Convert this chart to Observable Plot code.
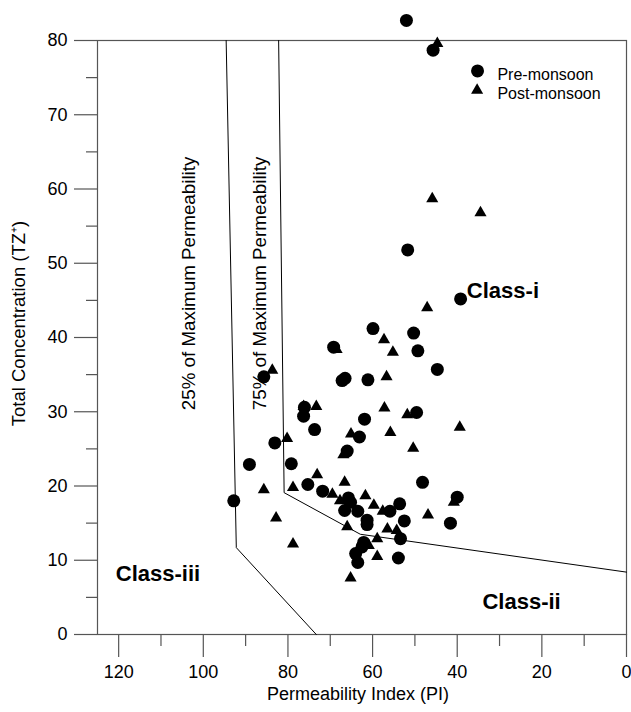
<!DOCTYPE html>
<html><head><meta charset="utf-8">
<script src="https://cdn.jsdelivr.net/npm/d3@7"></script>
<script src="https://cdn.jsdelivr.net/npm/@observablehq/plot@0.6"></script>
<style>
body{margin:0;background:#fff;}
#chart svg{display:block;}
</style></head><body><div id="chart"></div>
<script>
// Pre-monsoon samples (circles)
const preMonsoonPI = [52.0,45.7,51.7,39.2,59.9,69.2,50.3,49.3,44.7,85.7,67.2,66.5,61.1,76.1,76.3,73.7,61.9,63.1,49.6,66.0,83.1,89.1,79.2,92.8,75.3,71.8,65.7,65.2,66.6,63.5,61.3,61.3,62.1,62.5,64.0,63.5,48.2,40.0,53.6,55.9,52.5,41.6,53.4,53.9];
const preMonsoonTZ = [82.7,78.7,51.8,45.2,41.2,38.7,40.6,38.2,35.7,34.7,34.2,34.5,34.3,30.6,29.4,27.6,29.0,26.6,29.9,24.7,25.8,22.9,23.0,18.0,20.2,19.3,18.4,17.8,16.7,16.6,15.4,14.8,12.4,11.8,10.9,9.7,20.5,18.5,17.6,16.6,15.3,15.0,12.9,10.3];
// Post-monsoon samples (triangles)
const postMonsoonPI = [44.7,45.9,34.5,47.1,57.3,55.2,83.7,56.7,76.3,73.3,57.2,51.8,65.1,55.8,39.4,80.2,50.4,66.9,73.1,66.6,85.7,78.8,69.5,67.7,61.7,59.7,57.6,40.8,82.8,46.9,66.0,56.5,54.3,78.8,58.9,60.9,58.9,65.2,68.5];
const postMonsoonTZ = [79.6,58.7,56.8,44.0,39.7,38.0,35.6,34.7,30.7,30.7,30.5,29.6,27.0,27.2,27.9,26.4,25.1,24.2,21.5,20.5,19.5,19.8,18.9,18.0,18.7,17.4,16.6,17.8,15.7,16.1,14.5,14.2,14.0,12.2,12.9,12.0,10.5,7.6,38.4];

// Class boundary lines
const line25PI = [94.6, 92.2, 73.3];
const line25TZ = [80, 11.7, 0];
const line75PI = [82.2, 80.9, 62.9, 0];
const line75TZ = [80, 19.1, 13.5, 8.4];

// Ticks
const xMajorTicks = [0,20,40,60,80,100,120];
const xMinorTicks = [10,30,50,70,90,110];
const yMajorTicks = [0,10,20,30,40,50,60,70,80];
const yMinorTicks = [5,15,25,35,45,55,65,75];

// Texts
const xTitle = "Permeability Index (PI)";
const yTitle = "Total Concentration (TZ\u207A)";
const classLabels = ["Class-i","Class-ii","Class-iii"];
const classPI = [29.2, 24.8, 110.7];
const classTZ = [46.3, 4.4, 8.1];
const lineLabels = ["25% of Maximum Permeability","75% of Maximum Permeability"];
const lineLabelPI = [103.3, 86.5];
const lineLabelTZ = [30.2, 30.2];
const legendLabels = ["Pre-monsoon","Post-monsoon"];
const legendPI = [35.2, 35.3];
const legendTZ = [75.9, 73.3];
const legendTextPI = 30.5;

const pre = preMonsoonPI.map((v,i)=>({pi:v, tz:preMonsoonTZ[i]}));
const post = postMonsoonPI.map((v,i)=>({pi:v, tz:postMonsoonTZ[i]}));
const l25 = line25PI.map((v,i)=>({pi:v, tz:line25TZ[i]}));
const l75 = line75PI.map((v,i)=>({pi:v, tz:line75TZ[i]}));
const classes = classLabels.map((t,i)=>({t, pi:classPI[i], tz:classTZ[i]}));
const lineLbl = lineLabels.map((t,i)=>({t, pi:lineLabelPI[i], tz:lineLabelTZ[i]}));
const legend = legendLabels.map((t,i)=>({t, pi:legendPI[i], tz:legendTZ[i], tpi: legendTextPI}));

const FONT = "Arial, 'Liberation Sans', Helvetica, sans-serif";

const chart = Plot.plot({
  width: 631,
  height: 712,
  marginLeft: 97,
  marginRight: 5,
  marginTop: 40,
  marginBottom: 78,
  style: {fontFamily: FONT, fontSize: "18px", background: "white", color: "black"},
  x: {domain: [125, 0]},
  y: {domain: [0, 80]},
  marks: [
    Plot.frame({stroke: "#555", strokeWidth: 1.2}),
    Plot.axisX({ticks: xMajorTicks, tickSize: 23, tickPadding: 8, label: null, stroke: "#555", strokeWidth: 1.2, fill: "black", fontSize: 18}),
    Plot.axisX({ticks: xMinorTicks, tickSize: 12, tickFormat: () => "", label: null, stroke: "#555", strokeWidth: 1.2}),
    Plot.axisY({ticks: yMajorTicks, tickSize: 23, tickPadding: 7, label: null, stroke: "#555", strokeWidth: 1.2, fill: "black", fontSize: 18}),
    Plot.axisY({ticks: yMinorTicks, tickSize: 11, tickFormat: () => "", label: null, stroke: "#555", strokeWidth: 1.2}),
    Plot.line(l25, {x: "pi", y: "tz", stroke: "black", strokeWidth: 1}),
    Plot.line(l75, {x: "pi", y: "tz", stroke: "black", strokeWidth: 1}),
    Plot.text(lineLbl, {x: "pi", y: "tz", text: "t", rotate: -90, textAnchor: "start", fontSize: 18.8}),
    Plot.text(classes, {x: "pi", y: "tz", text: "t", fontSize: 22, fontWeight: "bold"}),
    Plot.dot(pre, {x: "pi", y: "tz", r: 6.5, fill: "black", symbol: "circle", stroke: "none"}),
    Plot.dot(post, {x: "pi", y: "tz", r: 4.5, fill: "black", symbol: "triangle", stroke: "none"}),
    Plot.dot(legend.slice(0,1), {x: "pi", y: "tz", r: 6.5, fill: "black", symbol: "circle", stroke: "none"}),
    Plot.dot(legend.slice(1,2), {x: "pi", y: "tz", r: 4.5, fill: "black", symbol: "triangle", stroke: "none"}),
    Plot.text(legend, {x: "tpi", y: "tz", text: "t", textAnchor: "start", dy: 4, fontSize: 16}),
    Plot.text([xTitle], {text: d => d, frameAnchor: "bottom", textAnchor: "middle", lineAnchor: "middle", dx: -4, dy: 60, fontSize: 18}),
    Plot.text([yTitle], {text: d => d, frameAnchor: "left", rotate: -90, textAnchor: "middle", lineAnchor: "middle", dx: -78, dy: -14, fontSize: 18.5})
  ]
});
document.getElementById("chart").appendChild(chart);
</script>
</body></html>
